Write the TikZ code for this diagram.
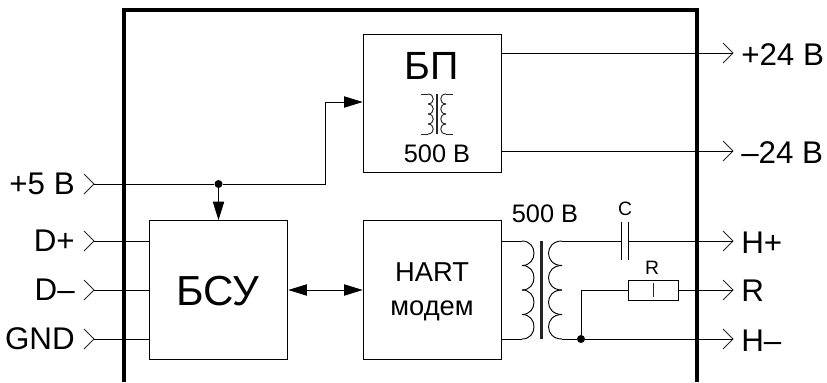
\documentclass[tikz,border=0pt]{standalone}
\usepackage{fontspec}
\setmainfont{Liberation Sans}
\usetikzlibrary{arrows.meta}
\newcommand{\fsz}[1]{\fontsize{#1pt}{#1pt}\selectfont}
\tikzset{
  x=0.75pt,y=-0.75pt,
  wire/.style={line width=0.7pt,black},
  flow/.style={wire,-{Triangle[length=14pt,width=8.5pt]}},
  flowb/.style={wire,{Triangle[length=14pt,width=8.5pt]}-{Triangle[length=14pt,width=8.5pt]}},
  blockbox/.style={draw,line width=0.7pt,inner sep=0pt,minimum width=104pt,minimum height=104pt},
  chev/.style={line width=0.6pt,black!85},
  lab/.style={inner sep=0pt,font=\fsz{23.5}},
  lableft/.style={inner sep=0pt,font=\fsz{23.5}},
  dot/.style={circle,fill=black,inner sep=0pt,minimum size=#1},
  coil/.style={line width=0.7pt,black!85},
  frameline/.style={line width=3pt,black},
}
\newcommand{\chevron}[1]{\draw[chev] (#1)++(-10,-10) -- (#1) -- ++(-10,10);}
\begin{document}
\begin{tikzpicture}
\useasboundingbox (0,0) rectangle (827,382);
% frame
\draw[frameline] (124,382) -- (124,10) -- (697,10) -- (697,382);
% blocks
\node[blockbox,minimum height=103.5pt] (bp) at (432.5,103) {};
\node[blockbox] (bsu) at (218.5,290) {};
\node[blockbox] (hart) at (432.5,290) {};
\node[inner sep=0pt,font=\fsz{29.5}] (bpt) at (432,66) {БП};
\node[inner sep=0pt,font=\fsz{19}] (bpv) at (437,154) {500 В};
\node[inner sep=0pt,font=\fsz{31.5}] (bsut) at (218,291) {БСУ};
\node[inner sep=0pt,font=\fsz{20.5},align=center,text depth=0pt] (hartt) at (432,289) {HART\\[5pt]модем};
% ports
\coordinate (p5) at (94,184);
\coordinate (pdp) at (94,241);
\coordinate (pdm) at (94,290);
\coordinate (pgnd) at (94,339);
\coordinate (op) at (733,53);
\coordinate (om) at (733,151);
\coordinate (hp) at (733,241);
\coordinate (rr) at (733,290);
\coordinate (hm) at (733,339);
\foreach \c in {p5,pdp,pdm,pgnd,op,om,hp,rr,hm}{\chevron{\c}}
\node[lableft,anchor=east] (l5) at (75,184) {+5 В};
\node[lableft,anchor=east] (ldp) at (75,241) {D+};
\node[lableft,anchor=east] (ldm) at (75,290) {D–};
\node[lableft,anchor=east] (lgnd) at (75,339) {GND};
\node[lab,anchor=west] (lop) at (741,55) {+24 В};
\node[lab,anchor=west] (lom) at (741,153) {–24 В};
\node[lab,anchor=west] (lhp) at (741,243) {H+};
\node[lab,anchor=west] (lrr) at (741,291) {R};
\node[lab,anchor=west] (lhm) at (741,341) {H–};
% +5V
\node[dot=6pt] (j5) at (218.5,184) {};
\coordinate (bend1) at (325,184);
\coordinate (bend2) at (325,102);
\draw[wire] (p5) -- (j5) -- (bend1) -- (bend2);
\draw[flow] (bend2) -- (bend2 -| bp.west);
\draw[flow] (j5) -- (bsu.north);
\draw[wire] (pdp) -- (pdp -| bsu.west);
\draw[wire] (pdm) -- (pdm -| bsu.west);
\draw[wire] (pgnd) -- (pgnd -| bsu.west);
\draw[flowb] (bsu.east) -- (hart.west);
\draw[wire] (op -| bp.east) -- (op);
\draw[wire] (om -| bp.east) -- (om);
% big transformer
\coordinate (tpt) at (522,241);
\coordinate (tpb) at (522,339);
\coordinate (tst) at (562,241);
\coordinate (tsb) at (562,339);
\draw[wire] (tpt -| hart.east) -- (tpt);
\draw[wire] (tpb -| hart.east) -- (tpb);
\foreach \i in {0,1,2,3}{
  \draw[wire] (522,241+24.5*\i) .. controls (538,241+24.5*\i) and (538,241+24.5*\i+24.5) .. (522,241+24.5*\i+24.5);
  \draw[wire] (562,241+24.5*\i) .. controls (544,241+24.5*\i) and (544,241+24.5*\i+24.5) .. (562,241+24.5*\i+24.5);
}
\draw[line width=2pt,black!85] (541.5,241) -- (541.5,339);
\node[inner sep=0pt,font=\fsz{19}] (v500) at (545,214) {500 В};
% capacitor
\coordinate (c1) at (621,241);
\coordinate (c2) at (628,241);
\draw[wire] (tst) -- (c1);
\draw[wire] (c2) -- (hp);
\draw[wire] (621,222) -- (621,260);
\draw[wire] (628,222) -- (628,260);
\node[inner sep=0pt,font=\fsz{14.5}] (ct) at (625,209) {C};
% resistor
\node[draw,line width=0.7pt,inner sep=0pt,minimum width=37.5pt,minimum height=15pt] (res) at (653,290) {};
\draw[coil] (res.center)++(0,-7) -- ++(0,14);
\node[inner sep=0pt,font=\fsz{14.5}] (rt) at (652,268) {R};
\node[dot=6pt] (j2) at (581,339) {};
\draw[wire] (tsb) -- (j2) -- (hm);
\draw[wire] (j2) |- (res.west);
\draw[wire] (res.east) -- (rr);
% small transformer
\draw[coil] (421,94) -- (428,94);
\draw[coil] (421,134) -- (428,134);
\draw[coil] (446,94) -- (453,94);
\draw[coil] (446,134) -- (453,134);
\foreach \i in {0,1,2,3}{
  \draw[coil] (428,94+10*\i) .. controls (435,94+10*\i) and (435,104+10*\i) .. (428,104+10*\i);
  \draw[coil] (446,94+10*\i) .. controls (439,94+10*\i) and (439,104+10*\i) .. (446,104+10*\i);
}
\draw[line width=1.7pt,black!85] (437,94) -- (437,134);
\end{tikzpicture}
\end{document}
